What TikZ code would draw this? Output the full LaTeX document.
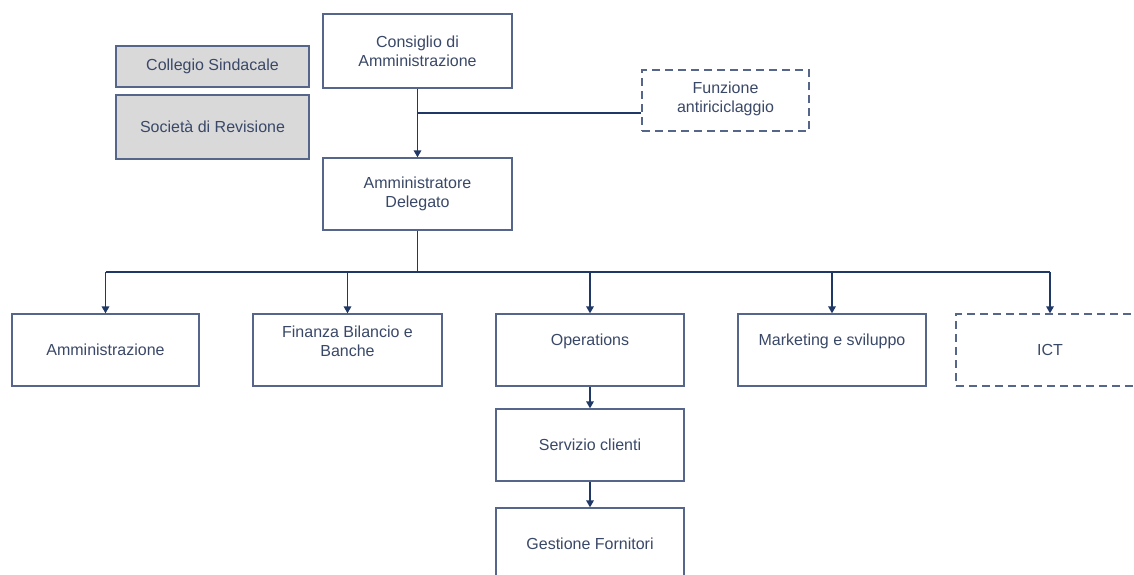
\documentclass[tikz,border=0pt]{standalone}
\usepackage{fontspec}
\setmainfont{Liberation Sans}
\usetikzlibrary{arrows.meta}
\definecolor{txtc}{HTML}{3A4868}
\definecolor{boxc}{HTML}{56668A}
\definecolor{conc}{HTML}{203866}
\definecolor{grayf}{HTML}{D9D9D9}
\tikzset{
  box/.style={draw=boxc, line width=1.3pt, fill=white, text=txtc, align=center,
    font=\fontsize{16}{19}\selectfont, inner sep=2pt},
  graybox/.style={box, fill=grayf},
  dbox/.style={box, dash pattern=on 8pt off 5pt},
  txtup/.style={text depth=#1},
  conn/.style={draw=conc, line width=1.6pt},
  arr/.style={conn, -{Triangle[width=7.5pt,length=7pt]}}
}
\begin{document}
\begin{tikzpicture}[x=1pt,y=-1pt]
\useasboundingbox (0,0) rectangle (1134,574);
\clip (0,0) rectangle (1134,574);
\fill[white] (0,0) rectangle (1134,574);
% nodes
\node[graybox, minimum width=193pt, minimum height=41pt] (coll) at (212.5,66.5) {Collegio Sindacale};
\node[graybox, minimum width=193pt, minimum height=64pt] (soc) at (212.5,127) {Società di Revisione};
\node[box, minimum width=189pt, minimum height=74pt] (cda) at (417.5,51) {Consiglio di\\Amministrazione};
\node[dbox, minimum width=167pt, minimum height=61pt, txtup=7pt] (fun) at (725.5,100.5) {Funzione\\antiriciclaggio};
\node[box, minimum width=189pt, minimum height=72pt] (ad) at (417.5,194) {Amministratore\\Delegato};
\node[box, minimum width=187pt, minimum height=72pt] (amm) at (105.5,350) {Amministrazione};
\node[box, minimum width=189pt, minimum height=72pt, txtup=18pt] (fin) at (347.5,350) {Finanza Bilancio e\\Banche};
\node[box, minimum width=188pt, minimum height=72pt, txtup=21pt] (ops) at (590,350) {Operations};
\node[box, minimum width=188pt, minimum height=72pt, txtup=21pt] (mkt) at (832,350) {Marketing e sviluppo};
\node[dbox, minimum width=188pt, minimum height=72pt] (ict) at (1050,350) {ICT};
\node[box, minimum width=188pt, minimum height=72pt] (srv) at (590,445) {Servizio clienti};
\node[box, minimum width=188pt, minimum height=72pt] (ges) at (590,544) {Gestione Fornitori};
% connectors
\coordinate (br) at (417.5,113);
\coordinate (bus) at (417.5,272);
\draw[arr] (cda.south) -- (ad.north);
\draw[conn] (br) -- (br -| fun.west);
\draw[conn] (ad.south) -- (bus);
\draw[conn] (bus -| amm.north) -- (bus -| ict.north);
\draw[arr] (bus -| amm.north) -- (amm.north);
\draw[arr] (bus -| fin.north) -- (fin.north);
\draw[arr] (bus -| ops.north) -- (ops.north);
\draw[arr] (bus -| mkt.north) -- (mkt.north);
\draw[arr] (bus -| ict.north) -- (ict.north);
\draw[arr] (ops.south) -- (srv.north);
\draw[arr] (srv.south) -- (ges.north);
\end{tikzpicture}
\end{document}
